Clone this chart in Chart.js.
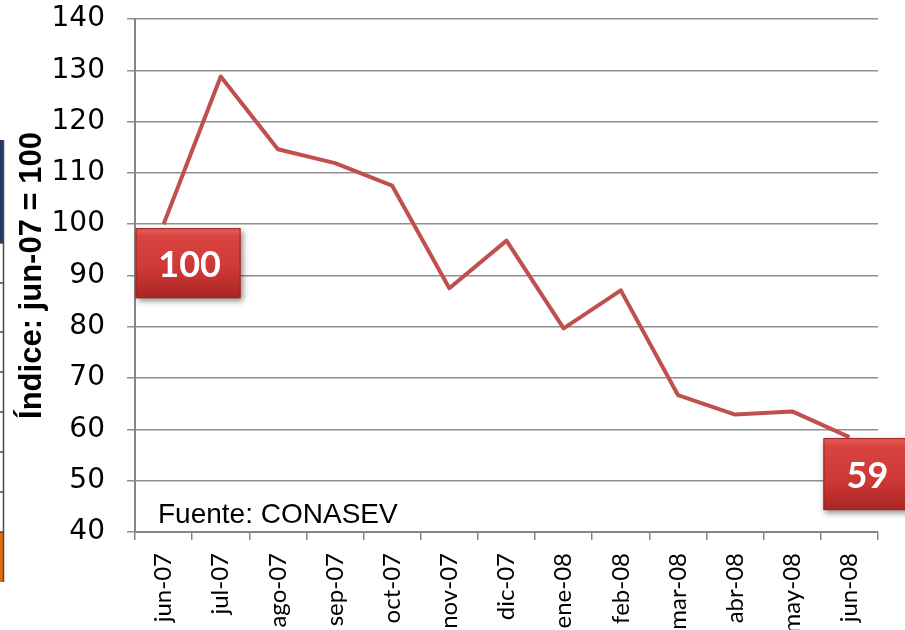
<!DOCTYPE html>
<html>
<head>
<meta charset="utf-8">
<script src="https://cdn.jsdelivr.net/npm/chart.js@4.4.0/dist/chart.umd.min.js"></script>
<style>
  html, body { margin: 0; padding: 0; background: #fff; }
  #wrap { width: 905px; height: 630px; position: relative; }
</style>
</head>
<body>
<div id="wrap"><canvas id="indexChart" width="905" height="630"></canvas></div>
<script>
// --- data ---
const months = ['jun-07', 'jul-07', 'ago-07', 'sep-07', 'oct-07', 'nov-07', 'dic-07',
                'ene-08', 'feb-08', 'mar-08', 'abr-08', 'may-08', 'jun-08'];
const indexValues = [100, 128.8, 114.6, 111.9, 107.5, 87.5, 96.8, 79.7, 87.1, 66.7, 62.9, 63.5, 58.5];
const yMin = 40;
const yMax = 140;
const yStep = 10;
const calloutIndexes = [0, 12];
const calloutTexts = ['100', '59'];
const axisTitle = 'Índice: jun-07 = 100';
const sourceNote = 'Fuente: CONASEV';

// callout box geometry relative to its data point (dx, dy, w, h, text centre from box left)
const calloutBoxes = [
  { dx: -28, dy: 4, w: 105, h: 70, tx: 54 },
  { dx: -26, dy: 1, w: 92, h: 72, tx: 44 }
];

// decorative strip at the left edge (piece of another slide object)
function drawLeftStrip(ctx) {
  ctx.save();
  ctx.fillStyle = '#1f3b66';
  ctx.fillRect(0, 140, 4, 103);
  ctx.fillStyle = '#e36c0a';
  ctx.fillRect(0, 532, 4, 50);
  ctx.strokeStyle = '#4a4a4a';
  ctx.lineWidth = 1.5;
  ctx.beginPath();
  ctx.moveTo(3.5, 140); ctx.lineTo(3.5, 582);
  [243, 283, 332, 372, 412, 452, 492, 532].forEach(y => {
    ctx.moveTo(0, y); ctx.lineTo(3.5, y);
  });
  ctx.stroke();
  ctx.restore();
}

function drawCallout(ctx, x, y, w, h, text, tx) {
  ctx.save();
  ctx.shadowColor = 'rgba(0,0,0,0.45)';
  ctx.shadowBlur = 6;
  ctx.shadowOffsetX = 2;
  ctx.shadowOffsetY = 3;
  const g = ctx.createLinearGradient(0, y, 0, y + h);
  g.addColorStop(0, '#e4605c');
  g.addColorStop(0.12, '#d9443f');
  g.addColorStop(0.6, '#cc3835');
  g.addColorStop(1, '#a92522');
  ctx.fillStyle = g;
  ctx.fillRect(x, y, w, h);
  ctx.restore();

  ctx.save();
  ctx.strokeStyle = '#9e2320';
  ctx.lineWidth = 1;
  ctx.strokeRect(x + 0.5, y + 0.5, w - 1, h - 1);
  ctx.fillStyle = '#ffffff';
  ctx.font = 'bold 36px Lato';
  ctx.textAlign = 'center';
  ctx.textBaseline = 'middle';
  ctx.fillText(text, x + tx, y + h / 2 + 2);
  ctx.restore();
}

const overlayPlugin = {
  id: 'overlay',
  beforeDraw(chart) {
    drawLeftStrip(chart.ctx);
  },
  afterDatasetsDraw(chart) {
    const ctx = chart.ctx;
    const meta = chart.getDatasetMeta(0);
    const area = chart.chartArea;

    ctx.save();
    ctx.fillStyle = '#000';
    ctx.font = '28px "Liberation Sans"';
    ctx.textBaseline = 'alphabetic';
    ctx.fillText(sourceNote, area.left + 23, area.bottom - 9);
    ctx.restore();

    calloutIndexes.forEach((idx, i) => {
      const pt = meta.data[idx];
      const b = calloutBoxes[i];
      drawCallout(ctx, pt.x + b.dx, pt.y + b.dy, b.w, b.h, calloutTexts[i], b.tx);
    });
  }
};

new Chart(document.getElementById('indexChart'), {
  type: 'line',
  data: {
    labels: months,
    datasets: [{
      data: indexValues,
      borderColor: '#c0504d',
      borderWidth: 4,
      borderJoinStyle: 'round',
      pointRadius: 0,
      tension: 0,
      fill: false
    }]
  },
  options: {
    responsive: false,
    animation: false,
    layout: { padding: { top: 19, right: 27, bottom: 0, left: 0 } },
    plugins: {
      legend: { display: false },
      tooltip: { enabled: false }
    },
    scales: {
      x: {
        offset: true,
        grid: {
          offset: true,
          drawOnChartArea: false,
          drawTicks: true,
          tickLength: 8,
          color: '#868686',
          lineWidth: 1.5
        },
        border: { color: '#868686', width: 2 },
        ticks: {
          color: '#000',
          font: { family: 'Lato', size: 24 },
          minRotation: 90,
          maxRotation: 90,
          autoSkip: false,
          padding: 13
        },
        afterFit(scale) { scale.height = 98; }
      },
      y: {
        min: yMin,
        max: yMax,
        grid: {
          color: '#8f8f8f',
          lineWidth: 1.5,
          tickLength: 8
        },
        border: { color: '#868686', width: 2 },
        ticks: {
          stepSize: yStep,
          color: '#000',
          font: { family: 'DejaVu Sans', size: 28 },
          padding: 22
        },
        title: {
          display: true,
          text: axisTitle,
          color: '#000',
          font: { family: 'Liberation Sans', size: 31, weight: 'bold' },
          padding: { top: 14, bottom: 0 }
        },
        afterFit(scale) {
          scale.width = 135;
          scale.paddingTop = 0;
          scale.paddingBottom = 0;
        }
      }
    }
  },
  plugins: [overlayPlugin]
});
</script>
</body>
</html>
